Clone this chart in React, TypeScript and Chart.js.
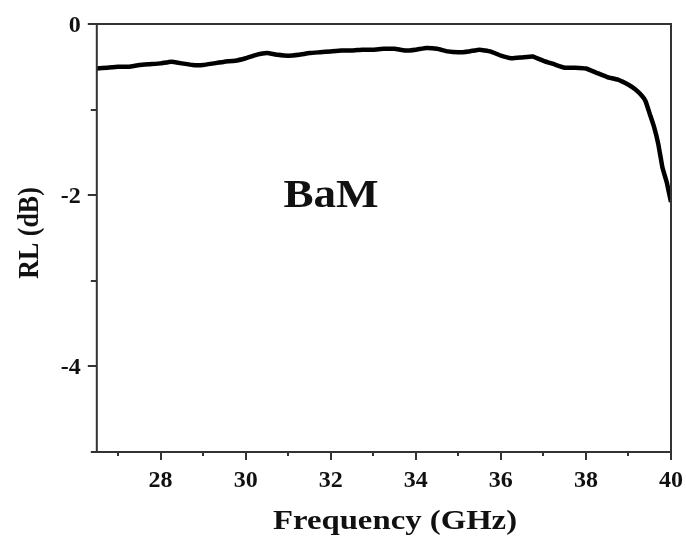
import React, { useEffect, useRef } from "react";
import { Chart, registerables } from "chart.js";

Chart.register(...registerables);

const frequency = [
  26.5, 26.75, 27.0, 27.25, 27.5, 27.75, 28.0, 28.25, 28.5, 28.75, 29.0, 29.25, 29.5, 29.75,
  30.0, 30.25, 30.5, 30.75, 31.0, 31.25, 31.5, 31.75, 32.0, 32.25, 32.5, 32.75, 33.0, 33.25,
  33.5, 33.75, 34.0, 34.25, 34.5, 34.75, 35.0, 35.25, 35.5, 35.75, 36.0, 36.25, 36.5, 36.75,
  37.0, 37.25, 37.5, 37.75, 38.0, 38.25, 38.5, 38.75, 39.0, 39.15, 39.3, 39.4, 39.5, 39.6,
  39.7, 39.8, 39.9, 40.0,
];
const rl = [
  -0.52, -0.51, -0.5, -0.5, -0.48, -0.47, -0.46, -0.44, -0.46, -0.48, -0.48, -0.46, -0.44, -0.43,
  -0.4, -0.36, -0.34, -0.36, -0.37, -0.36, -0.34, -0.33, -0.32, -0.31, -0.31, -0.3, -0.3, -0.29,
  -0.29, -0.31, -0.3, -0.28, -0.29, -0.32, -0.33, -0.32, -0.3, -0.32, -0.37, -0.4, -0.39, -0.38,
  -0.43, -0.47, -0.51, -0.51, -0.52, -0.57, -0.62, -0.65, -0.71, -0.76, -0.83, -0.9, -1.05, -1.2,
  -1.4, -1.68, -1.85, -2.08,
];
const xTicks = [27, 28, 29, 30, 31, 32, 33, 34, 35, 36, 37, 38, 39, 40];
const xLabels = [28, 30, 32, 34, 36, 38, 40];
const yTicks = [-5, -4, -3, -2, -1, 0];
const yLabels = [0, -2, -4];
const xTitle = "Frequency (GHz)";
const yTitle = "RL (dB)";
const annotation = "BaM";

const FONT = `"Liberation Serif", Tinos, "Times New Roman", Times, serif`;

const framePlugin = {
  id: "frame",
  afterDraw(chart: any) {
    const { ctx, chartArea } = chart;
    const { left, right, top, bottom } = chartArea;
    const xs = chart.scales.x;
    const ys = chart.scales.y;
    ctx.save();
    ctx.strokeStyle = "#333";
    ctx.lineWidth = 2;
    ctx.strokeRect(left, top, right - left, bottom - top);
    ctx.beginPath();
    xTicks.forEach((v) => {
      const px = Math.round(xs.getPixelForValue(v));
      const len = xLabels.includes(v) ? 8 : 4;
      ctx.moveTo(px, bottom);
      ctx.lineTo(px, bottom + len);
    });
    yTicks.forEach((v) => {
      const py = Math.round(ys.getPixelForValue(v));
      const len = yLabels.includes(v) ? 9 : 6;
      ctx.moveTo(left, py);
      ctx.lineTo(left - len, py);
    });
    ctx.stroke();

    ctx.fillStyle = "#111";
    ctx.textBaseline = "alphabetic";

    // tick labels
    ctx.font = `bold 24px ${FONT}`;
    xLabels.forEach((v) => {
      const px = xs.getPixelForValue(v);
      ctx.save();
      ctx.textAlign = "center";
      ctx.translate(px, bottom + 35);
      ctx.fillText(String(v), 0, 0);
      ctx.restore();
    });
    yLabels.forEach((v) => {
      const py = ys.getPixelForValue(v);
      ctx.save();
      ctx.textAlign = "right";
      ctx.translate(left - 16, py + 8);
      ctx.fillText(String(v), 0, 0);
      ctx.restore();
    });

    // x title
    ctx.save();
    ctx.font = `bold 28px ${FONT}`;
    ctx.textAlign = "center";
    ctx.translate(395, 529);
    ctx.scale(1.17, 1);
    ctx.fillText(xTitle, 0, 0);
    ctx.restore();

    // y title
    ctx.save();
    ctx.font = `bold 26px ${FONT}`;
    ctx.textAlign = "center";
    ctx.translate(38, 233);
    ctx.rotate(-Math.PI / 2);
    ctx.scale(1, 1.15);
    ctx.fillText(yTitle, 0, 0);
    ctx.restore();

    // annotation
    ctx.save();
    ctx.font = `bold 41px ${FONT}`;
    ctx.textAlign = "center";
    ctx.translate(331, 207);
    ctx.scale(1.1, 1);
    ctx.fillText(annotation, 0, 0);
    ctx.restore();

    ctx.restore();
  },
};

export default function App() {
  const ref = useRef<HTMLCanvasElement>(null);
  useEffect(() => {
    document.body.style.margin = "0";
    let chart: Chart | null = null;
    let cancelled = false;
    const build = () => {
      if (cancelled || !ref.current) return;
      chart = new Chart(ref.current, {
        type: "line",
        data: {
          datasets: [
            {
              data: frequency.map((f, i) => ({ x: f, y: rl[i] })),
              borderColor: "#000",
              borderWidth: 4.5,
              pointRadius: 0,
              tension: 0.1,
              fill: false,
            },
          ],
        },
        options: {
          animation: false,
          responsive: false,
          maintainAspectRatio: false,
          layout: { padding: { top: 24, right: 15, left: 0, bottom: 0 } },
          plugins: { legend: { display: false }, tooltip: { enabled: false } },
          scales: {
            x: {
              type: "linear",
              min: 26.5,
              max: 40,
              grid: { display: false },
              border: { display: false },
              ticks: { display: false },
              afterFit: (s: any) => {
                s.height = 88;
              },
            },
            y: {
              type: "linear",
              min: -5,
              max: 0,
              grid: { display: false },
              border: { display: false },
              ticks: { display: false },
              afterFit: (s: any) => {
                s.width = 96.8;
              },
            },
          },
        },
        plugins: [framePlugin],
      });
    };
    const fonts: any = (document as any).fonts;
    if (fonts && fonts.load) {
      Promise.all([
        fonts.load(`bold 24px "Liberation Serif"`),
        fonts.load(`bold 40px "Liberation Serif"`),
      ])
        .catch(() => null)
        .then(build);
    } else {
      build();
    }
    return () => {
      cancelled = true;
      if (chart) chart.destroy();
    };
  }, []);
  return (
    <div style={{ width: 686, height: 540, background: "#fff" }}>
      <canvas ref={ref} width={686} height={540} />
    </div>
  );
}
